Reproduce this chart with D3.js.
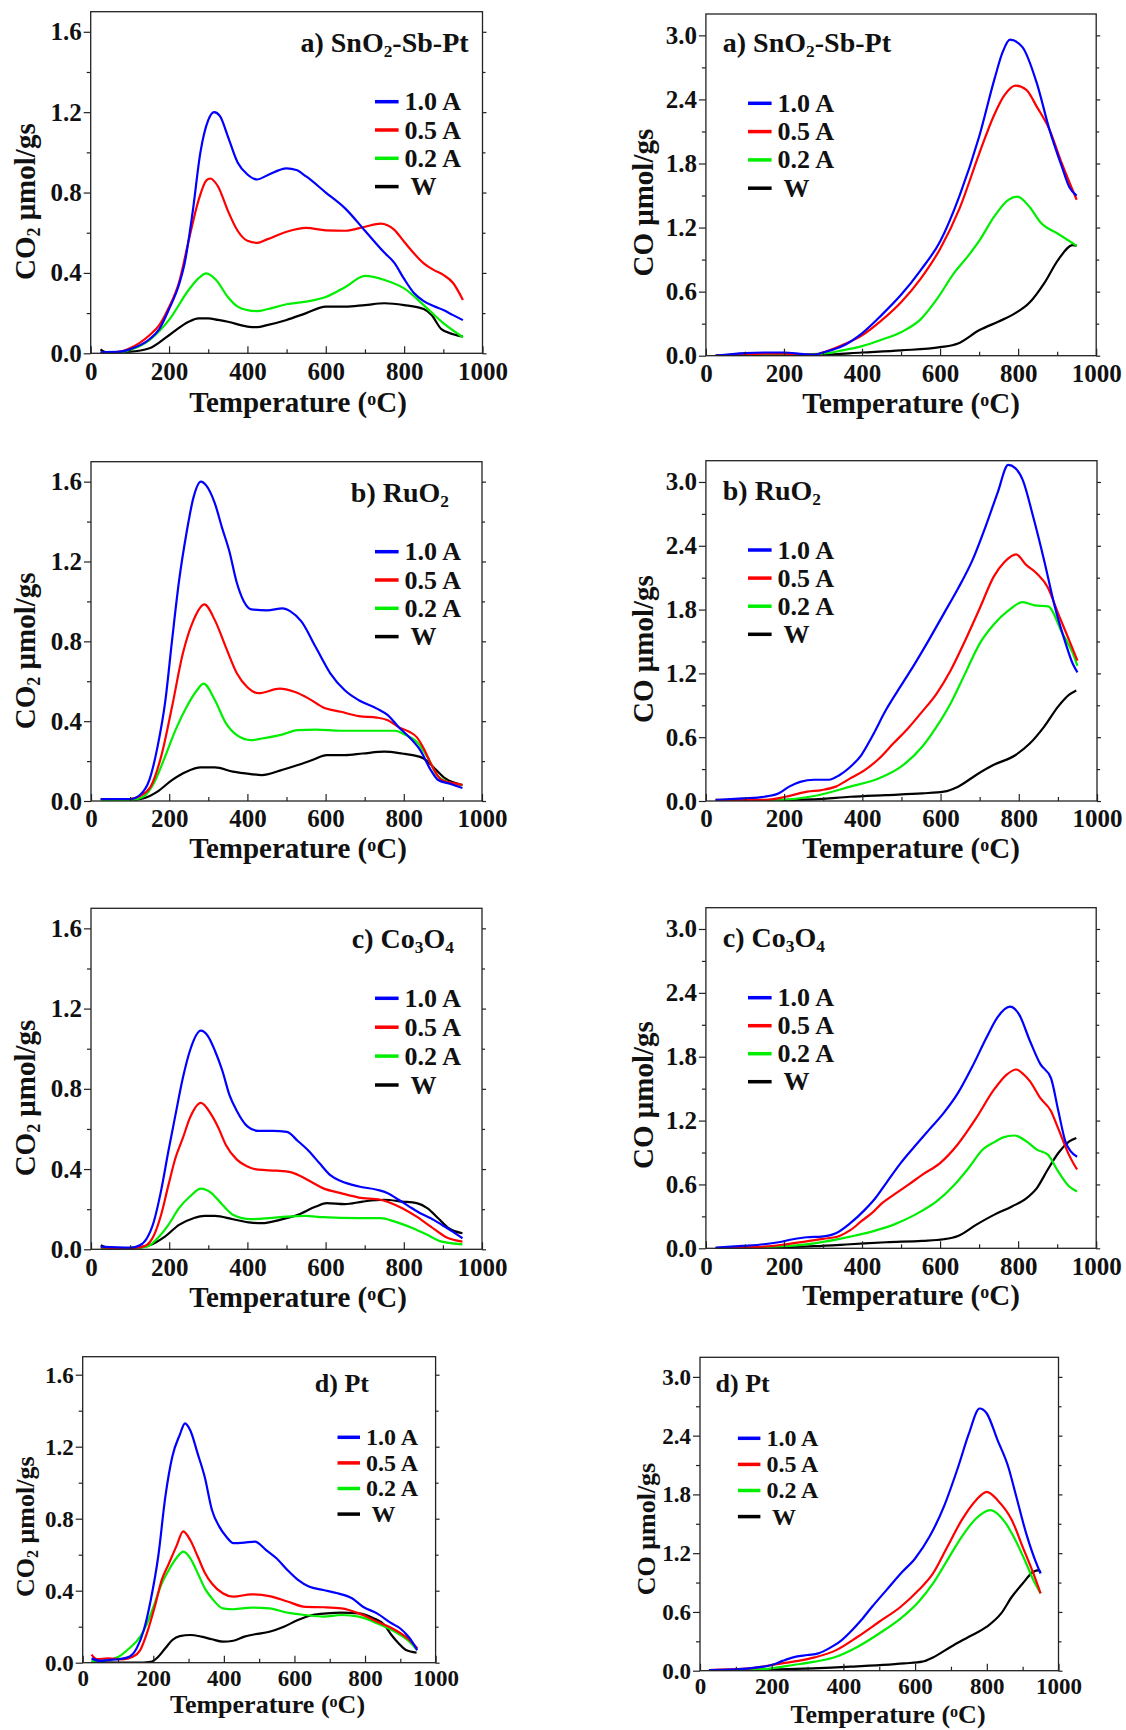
<!DOCTYPE html>
<html><head><meta charset="utf-8">
<script src="https://cdn.jsdelivr.net/npm/d3@7"></script>
<style>
body{margin:0;background:#fff}
svg{display:block}
text{font-family:"Liberation Serif","Times New Roman",serif;font-weight:bold;fill:#111}
.leg{white-space:pre}
</style>
</head><body>
<svg id="c" width="1126" height="1730"></svg>
<script>
// ---------- data ----------
const seriesNames = ["1.0 A", "0.5 A", "0.2 A", " W"];
const seriesColors = ["#0000ff", "#ff0000", "#00ee00", "#000000"];
const xTicks = [0, 200, 400, 600, 800, 1000];
const xMinor = [100, 300, 500, 700, 900];
const yTicksCO2 = [0, 0.4, 0.8, 1.2, 1.6];
const yMinorCO2 = [0.2, 0.6, 1.0, 1.4];
const yTicksCO = [0, 0.6, 1.2, 1.8, 2.4, 3.0];
const yMinorCO = [0.3, 0.9, 1.5, 2.1, 2.7];

// a) SnO2-Sb-Pt, CO2
const a_CO2_10 = [[25,0.005],[75,0.008],[100,0.02],[150,0.07],[175,0.12],[200,0.22],[225,0.34],[240,0.45],[260,0.70],[280,1.0],[300,1.16],[315,1.2],[330,1.18],[350,1.08],[375,0.95],[400,0.89],[425,0.865],[450,0.885],[500,0.92],[525,0.912],[550,0.88],[600,0.80],[650,0.72],[700,0.61],[750,0.50],[775,0.45],[800,0.37],[825,0.30],[850,0.26],[875,0.235],[900,0.215],[925,0.19],[950,0.165]];
const a_CO2_05 = [[25,0.0],[75,0.008],[100,0.025],[150,0.09],[175,0.14],[200,0.23],[225,0.35],[250,0.56],[275,0.76],[295,0.86],[305,0.87],[325,0.83],[350,0.71],[375,0.61],[400,0.56],[425,0.55],[450,0.567],[500,0.605],[550,0.624],[600,0.612],[650,0.61],[700,0.63],[740,0.645],[775,0.614],[800,0.555],[850,0.448],[875,0.415],[900,0.39],[925,0.35],[950,0.265]];
const a_CO2_02 = [[25,0.0],[75,0.005],[100,0.017],[150,0.066],[200,0.166],[250,0.315],[275,0.373],[295,0.398],[320,0.365],[350,0.28],[375,0.232],[400,0.215],[425,0.21],[450,0.219],[500,0.244],[550,0.257],[600,0.28],[650,0.33],[700,0.385],[750,0.365],[800,0.323],[850,0.24],[900,0.15],[950,0.08]];
const a_CO2_W = [[25,0.02],[40,0.005],[100,0.008],[150,0.025],[200,0.09],[250,0.157],[275,0.174],[300,0.174],[325,0.166],[350,0.157],[400,0.133],[425,0.13],[450,0.14],[500,0.166],[550,0.2],[600,0.232],[650,0.232],[700,0.24],[750,0.249],[800,0.24],[850,0.22],[870,0.19],[895,0.12],[925,0.095],[950,0.083]];

// a) SnO2-Sb-Pt, CO
const a_CO_10 = [[25,0],[100,0.025],[150,0.03],[200,0.03],[250,0.015],[280,0.01],[300,0.03],[350,0.09],[400,0.21],[450,0.38],[500,0.57],[550,0.8],[600,1.07],[650,1.5],[700,2.05],[740,2.6],[760,2.84],[779,2.96],[811,2.89],[848,2.55],[880,2.12],[912,1.77],[931,1.58],[950,1.5]];
const a_CO_05 = [[25,0],[100,0.015],[200,0.02],[250,0.01],[280,0.01],[300,0.03],[350,0.1],[400,0.19],[450,0.33],[500,0.5],[550,0.72],[600,1.0],[650,1.38],[701,1.9],[738,2.25],[765,2.44],[793,2.53],[821,2.49],[848,2.33],[880,2.12],[912,1.8],[950,1.46]];
const a_CO_02 = [[25,0],[200,0.01],[300,0.02],[350,0.05],[400,0.09],[450,0.15],[500,0.22],[550,0.34],[590,0.52],[637,0.78],[673,0.94],[701,1.08],[738,1.3],[775,1.46],[798,1.49],[830,1.39],[857,1.25],[903,1.14],[950,1.03]];
const a_CO_W = [[25,0],[300,0.01],[400,0.03],[500,0.05],[600,0.08],[646,0.115],[701,0.24],[750,0.32],[784,0.38],[830,0.5],[867,0.68],[903,0.9],[940,1.035],[950,1.03]];

// b) RuO2, CO2
const b_CO2_10 = [[25,0.01],[100,0.01],[125,0.03],[150,0.11],[170,0.27],[190,0.5],[207,0.8],[225,1.1],[244,1.34],[262,1.52],[281,1.6],[295,1.58],[317,1.49],[335,1.37],[354,1.25],[372,1.1],[391,1.0],[410,0.96],[450,0.955],[490,0.965],[510,0.95],[538,0.9],[575,0.77],[612,0.64],[649,0.555],[685,0.505],[731,0.463],[759,0.43],[787,0.37],[814,0.32],[842,0.255],[869,0.155],[888,0.105],[920,0.085],[950,0.065]];
const b_CO2_05 = [[25,0.01],[100,0.01],[125,0.025],[152,0.07],[179,0.22],[207,0.47],[235,0.74],[262,0.905],[290,0.985],[317,0.905],[345,0.77],[373,0.64],[400,0.57],[428,0.54],[483,0.563],[520,0.547],[557,0.513],[593,0.47],[639,0.447],[685,0.425],[731,0.418],[759,0.405],[787,0.37],[814,0.347],[833,0.32],[851,0.263],[869,0.188],[897,0.105],[943,0.083],[950,0.08]];
const b_CO2_02 = [[25,0.005],[100,0.005],[133,0.02],[161,0.09],[189,0.22],[216,0.355],[244,0.47],[271,0.555],[288,0.588],[317,0.505],[345,0.39],[373,0.33],[409,0.305],[437,0.313],[483,0.33],[529,0.355],[575,0.358],[639,0.352],[731,0.352],[777,0.352],[805,0.33],[833,0.297],[860,0.222],[888,0.122],[925,0.088],[950,0.08]];
const b_CO2_W = [[25,0.01],[100,0.005],[133,0.013],[170,0.047],[207,0.105],[244,0.147],[281,0.168],[317,0.168],[363,0.147],[409,0.135],[437,0.13],[483,0.152],[529,0.18],[566,0.205],[603,0.23],[649,0.23],[695,0.238],[750,0.247],[796,0.238],[823,0.23],[851,0.213],[879,0.163],[906,0.113],[950,0.08]];

// b) RuO2, CO
const b_CO_10 = [[25,0.01],[94,0.025],[149,0.04],[185,0.07],[213,0.135],[241,0.18],[277,0.2],[314,0.2],[342,0.245],[369,0.32],[397,0.43],[424,0.6],[461,0.86],[498,1.08],[534,1.29],[571,1.52],[608,1.76],[645,2.0],[681,2.26],[718,2.61],[746,2.9],[773,3.16],[791,3.13],[810,3.02],[837,2.67],[865,2.26],[892,1.83],[920,1.48],[938,1.29],[950,1.21]];
const b_CO_05 = [[25,0.01],[149,0.01],[204,0.04],[259,0.088],[296,0.103],[332,0.135],[369,0.213],[406,0.29],[443,0.4],[479,0.54],[516,0.68],[553,0.84],[590,1.01],[626,1.23],[663,1.51],[700,1.81],[736,2.11],[764,2.25],[793,2.32],[819,2.22],[846,2.14],[874,2.01],[901,1.76],[929,1.51],[950,1.32]];
const b_CO_02 = [[25,0.005],[185,0.01],[277,0.047],[369,0.135],[443,0.213],[498,0.32],[553,0.51],[590,0.7],[626,0.92],[663,1.2],[700,1.48],[736,1.66],[773,1.79],[810,1.87],[840,1.84],[875,1.83],[911,1.58],[938,1.39],[950,1.27]];
const b_CO_W = [[25,0.005],[277,0.015],[369,0.04],[461,0.056],[553,0.072],[608,0.088],[645,0.135],[691,0.245],[736,0.34],[791,0.43],[828,0.54],[865,0.7],[901,0.89],[929,1.0],[947,1.04]];

// c) Co3O4, CO2
const c_CO2_10 = [[25,0.013],[100,0.008],[125,0.02],[143,0.055],[161,0.14],[179,0.29],[198,0.49],[216,0.67],[235,0.855],[253,0.99],[281,1.09],[299,1.063],[317,0.99],[336,0.89],[354,0.77],[373,0.69],[400,0.613],[428,0.59],[465,0.59],[501,0.585],[529,0.54],[557,0.49],[584,0.43],[612,0.37],[639,0.34],[685,0.313],[731,0.297],[759,0.28],[787,0.247],[814,0.213],[842,0.18],[869,0.155],[897,0.122],[925,0.088],[950,0.055]];
const c_CO2_05 = [[25,0.01],[100,0.005],[125,0.01],[143,0.022],[161,0.07],[179,0.17],[198,0.32],[216,0.455],[235,0.555],[253,0.655],[281,0.73],[308,0.67],[326,0.605],[345,0.52],[373,0.447],[400,0.413],[428,0.397],[474,0.392],[510,0.385],[538,0.363],[566,0.333],[593,0.305],[639,0.28],[685,0.258],[740,0.247],[768,0.23],[796,0.205],[833,0.163],[869,0.113],[906,0.063],[950,0.038]];
const c_CO2_02 = [[25,0.005],[100,0.005],[143,0.013],[170,0.055],[198,0.122],[225,0.205],[253,0.263],[281,0.302],[308,0.28],[336,0.222],[363,0.172],[409,0.15],[455,0.155],[501,0.163],[547,0.167],[593,0.16],[685,0.155],[740,0.155],[777,0.138],[823,0.105],[860,0.072],[897,0.038],[950,0.025]];
const c_CO2_W = [[25,0.02],[50,0.005],[100,0.005],[152,0.022],[189,0.063],[225,0.122],[262,0.155],[290,0.167],[317,0.167],[363,0.15],[409,0.133],[437,0.13],[483,0.147],[529,0.172],[575,0.213],[603,0.23],[649,0.225],[695,0.238],[750,0.247],[796,0.238],[833,0.23],[860,0.205],[888,0.155],[915,0.105],[950,0.08]];

// c) Co3O4, CO
const c_CO_10 = [[25,0.006],[94,0.022],[149,0.038],[186,0.057],[223,0.085],[259,0.104],[296,0.11],[333,0.141],[370,0.236],[407,0.361],[434,0.47],[462,0.613],[499,0.8],[535,0.958],[572,1.115],[609,1.27],[646,1.46],[683,1.71],[719,1.98],[747,2.17],[779,2.27],[802,2.2],[830,1.95],[857,1.73],[884,1.6],[903,1.29],[921,1.005],[935,0.91],[951,0.86]];
const c_CO_05 = [[25,0],[100,0.01],[150,0.016],[200,0.035],[250,0.06],[300,0.088],[342,0.116],[370,0.17],[400,0.26],[425,0.33],[450,0.42],[480,0.5],[520,0.6],[554,0.69],[600,0.8],[646,0.98],[692,1.22],[738,1.49],[770,1.63],[795,1.68],[815,1.63],[830,1.57],[857,1.41],[884,1.29],[900,1.15],[912,1.04],[930,0.88],[951,0.74]];
const c_CO_02 = [[25,0],[94,0.005],[200,0.02],[278,0.047],[370,0.11],[425,0.157],[480,0.22],[535,0.314],[591,0.44],[637,0.597],[673,0.754],[710,0.93],[740,1.0],[760,1.04],[790,1.06],[821,1.005],[848,0.927],[876,0.88],[903,0.72],[931,0.58],[951,0.534]];
const c_CO_W = [[25,0],[278,0.02],[370,0.038],[462,0.057],[554,0.07],[609,0.085],[646,0.116],[692,0.22],[738,0.314],[784,0.393],[821,0.47],[848,0.566],[876,0.74],[903,0.895],[931,1.005],[949,1.037]];

// d) Pt, CO2
const d_CO2_10 = [[25,0.024],[50,0.01],[71,0.015],[102,0.019],[132,0.033],[153,0.08],[173,0.18],[193,0.35],[214,0.59],[234,0.92],[254,1.146],[275,1.266],[290,1.33],[305,1.29],[326,1.16],[346,1.03],[366,0.85],[387,0.756],[407,0.7],[427,0.664],[458,0.667],[488,0.673],[519,0.627],[549,0.58],[580,0.515],[610,0.46],[641,0.423],[682,0.404],[722,0.386],[763,0.358],[794,0.311],[834,0.274],[875,0.219],[900,0.19],[925,0.14],[948,0.07]];
const d_CO2_05 = [[25,0.045],[40,0.02],[71,0.024],[112,0.019],[142,0.033],[163,0.07],[183,0.17],[204,0.31],[224,0.46],[244,0.55],[265,0.645],[285,0.73],[305,0.68],[326,0.59],[346,0.5],[366,0.44],[397,0.386],[427,0.367],[478,0.38],[529,0.37],[580,0.34],[631,0.31],[682,0.308],[733,0.302],[783,0.274],[834,0.228],[885,0.182],[926,0.126],[948,0.08]];
const d_CO2_02 = [[25,0.01],[71,0.015],[102,0.033],[132,0.08],[163,0.145],[183,0.22],[204,0.33],[224,0.44],[244,0.515],[265,0.58],[285,0.617],[305,0.58],[326,0.497],[346,0.413],[366,0.358],[397,0.302],[427,0.297],[478,0.306],[529,0.302],[580,0.278],[631,0.265],[682,0.256],[733,0.265],[783,0.256],[834,0.219],[885,0.172],[926,0.117],[948,0.07]];
const d_CO2_W = [[25,0.005],[153,0],[193,0.005],[214,0.033],[234,0.08],[254,0.126],[275,0.148],[305,0.154],[336,0.145],[366,0.13],[397,0.117],[427,0.122],[458,0.145],[488,0.158],[529,0.172],[570,0.2],[610,0.237],[651,0.265],[692,0.274],[733,0.278],[783,0.274],[824,0.247],[855,0.21],[875,0.154],[895,0.108],[916,0.07],[946,0.056]];

// d) Pt, CO
const d_CO_10 = [[25,0.007],[100,0.014],[160,0.034],[200,0.058],[230,0.1],[260,0.136],[300,0.16],[330,0.177],[360,0.228],[390,0.296],[420,0.398],[450,0.517],[480,0.653],[520,0.823],[560,0.993],[600,1.146],[640,1.367],[680,1.673],[720,2.08],[750,2.42],[780,2.677],[800,2.626],[830,2.354],[860,2.08],[880,1.81],[910,1.4],[940,1.08],[950,0.993]];
const d_CO_05 = [[25,0.007],[140,0.024],[200,0.058],[260,0.092],[320,0.136],[380,0.21],[440,0.347],[500,0.5],[560,0.653],[610,0.823],[650,0.993],[690,1.265],[730,1.537],[770,1.741],[800,1.826],[830,1.741],[870,1.537],[900,1.265],[930,0.993],[950,0.79]];
const d_CO_02 = [[25,0.005],[140,0.01],[200,0.024],[260,0.058],[320,0.092],[380,0.143],[440,0.245],[500,0.38],[560,0.534],[610,0.704],[650,0.891],[690,1.129],[730,1.367],[770,1.554],[810,1.64],[850,1.52],[880,1.333],[910,1.095],[930,0.925],[950,0.79]];
const d_CO_W = [[25,0.007],[220,0.014],[420,0.041],[570,0.075],[620,0.092],[650,0.136],[700,0.245],[750,0.347],[800,0.449],[840,0.585],[870,0.755],[900,0.891],[930,1.01],[945,1.027],[950,1.0]];

// panel titles (text pieces, "sub" = subscript)
const labelA = [["a) SnO"],["2","sub"],["-Sb-Pt"]];
const labelB = [["b) RuO"],["2","sub"]];
const labelC = [["c) Co"],["3","sub"],["O"],["4","sub"]];
const labelD = [["d) Pt"]];
const yTitleCO2 = [["CO"],["2","sub"],[" μmol/gs"]];
const yTitleCO = [["CO μmol/gs"]];
const xTitle = [["Temperature ("],["o","sup"],["C)"]];

// ---------- layout ----------
const big = {tick:25, title:29, label:28, leg:26, legLen:23.6, pad:8.5};
const small = {tick:23, title:26, label:26, leg:24, legLen:22.5, pad:7.3};
const panels = [
 {data:[a_CO2_10,a_CO2_05,a_CO2_02,a_CO2_W], co2:true, L:90.7,R:482.5,T:11.7,B:353.3, f:big,
  label:labelA, lx:468.6, ly:51.7, la:"end", legX:375, legY:101.7, legS:28.3, xtx:298, xty:411.7, ytx:35, yty:201.7},
 {data:[a_CO_10,a_CO_05,a_CO_02,a_CO_W], co2:false, L:705.9,R:1096.2,T:14,B:355.7, f:big,
  label:labelA, lx:722.8, ly:51.7, la:"start", legX:748, legY:103.3, legS:28.3, xtx:911, xty:413.3, ytx:653, yty:202.6},
 {data:[b_CO2_10,b_CO2_05,b_CO2_02,b_CO2_W], co2:true, L:91,R:482,T:461.7,B:801, f:big,
  label:labelB, lx:449, ly:501.7, la:"end", legX:375, legY:551.7, legS:28.3, xtx:298, xty:858.3, ytx:35, yty:650.8},
 {data:[b_CO_10,b_CO_05,b_CO_02,b_CO_W], co2:false, L:705.9,R:1097,T:460.7,B:801, f:big,
  label:labelB, lx:722.8, ly:500, la:"start", legX:748, legY:550, legS:28.1, xtx:911, xty:858.3, ytx:653, yty:649},
 {data:[c_CO2_10,c_CO2_05,c_CO2_02,c_CO2_W], co2:true, L:91,R:482,T:908.3,B:1249.3, f:big,
  label:labelC, lx:454, ly:948.3, la:"end", legX:375, legY:998.3, legS:28.9, xtx:298, xty:1306.7, ytx:35, yty:1098},
 {data:[c_CO_10,c_CO_05,c_CO_02,c_CO_W], co2:false, L:705.9,R:1096.2,T:907.7,B:1248.3, f:big,
  label:labelC, lx:722.8, ly:946.7, la:"start", legX:748, legY:997.7, legS:28, xtx:911, xty:1305, ytx:653, yty:1095},
 {data:[d_CO2_10,d_CO2_05,d_CO2_02,d_CO2_W], co2:true, L:82.7,R:435.6,T:1356.7,B:1662.7, f:small,
  label:labelD, lx:369, ly:1391.7, la:"end", legX:337.5, legY:1437.3, legS:25.6, xtx:267.5, xty:1713.3, ytx:34, yty:1526.7},
 {data:[d_CO_10,d_CO_05,d_CO_02,d_CO_W], co2:false, L:700,R:1058.5,T:1357.3,B:1670.7, f:small,
  label:labelD, lx:715.6, ly:1391.7, la:"start", legX:737.9, legY:1438.3, legS:26.1, xtx:888, xty:1723.3, ytx:655, yty:1529}
];

const svg = d3.select("#c");
const defs = svg.append("defs");

function richText(sel, parts, size) {
  parts.forEach(p => {
    const t = sel.append("tspan").text(p[0]);
    if (p[1] === "sub") t.attr("baseline-shift", "-28%").style("font-size", (size*0.62)+"px");
    if (p[1] === "sup") t.attr("baseline-shift", "38%").style("font-size", (size*0.62)+"px");
  });
}

panels.forEach((p, pi) => {
  const ymax = p.co2 ? 1.7 : 3.2;
  const yt = p.co2 ? yTicksCO2 : yTicksCO;
  const ym = p.co2 ? yMinorCO2 : yMinorCO;
  const x = d3.scaleLinear().domain([0, 1000]).range([p.L, p.R]);
  const y = d3.scaleLinear().domain([0, ymax]).range([p.B, p.T]);
  const g = svg.append("g");
  const cid = "clip" + pi;
  defs.append("clipPath").attr("id", cid).append("rect")
    .attr("x", p.L).attr("y", p.T).attr("width", p.R - p.L).attr("height", p.B - p.T);

  // data lines
  const line = d3.line().x(d => x(d[0])).y(d => y(d[1])).curve(d3.curveMonotoneX);
  g.append("g").attr("clip-path", `url(#${cid})`)
    .selectAll("path").data([3, 2, 1, 0]).join("path")
    .attr("d", i => line(p.data[i]))
    .attr("fill", "none").attr("stroke", i => seriesColors[i])
    .attr("stroke-width", 2.2).attr("stroke-linejoin", "round");

  // axes
  const styleAxis = s => { s.select(".domain").remove(); s.attr("font-family", null).attr("font-size", null).attr("color", "#222");
    s.selectAll("line").attr("stroke-width", 1.2); s.selectAll("text").style("font-size", p.f.tick + "px"); };
  g.append("g").attr("transform", `translate(${p.L},0)`)
    .call(d3.axisLeft(y).tickValues(yt).tickSize(7).tickPadding(2).tickFormat(d3.format(".1f"))).call(styleAxis);
  g.append("g").attr("transform", `translate(${p.L},0)`)
    .call(d3.axisLeft(y).tickValues(ym).tickSize(4).tickFormat("")).call(styleAxis);
  g.append("g").attr("transform", `translate(${p.R},0)`)
    .call(d3.axisRight(y).tickValues(yt).tickSize(4).tickFormat("")).call(styleAxis);
  g.append("g").attr("transform", `translate(${p.R},0)`)
    .call(d3.axisRight(y).tickValues(ym).tickSize(3).tickFormat("")).call(styleAxis);
  g.append("g").attr("transform", `translate(0,${p.B})`)
    .call(d3.axisBottom(x).tickValues(xTicks).tickSize(-7).tickPadding(p.f.pad).tickFormat(d3.format("d"))).call(styleAxis);
  g.append("g").attr("transform", `translate(0,${p.B})`)
    .call(d3.axisBottom(x).tickValues(xMinor).tickSize(-4).tickFormat("")).call(styleAxis);

  // frame
  g.append("rect").attr("x", p.L).attr("y", p.T).attr("width", p.R - p.L).attr("height", p.B - p.T)
    .attr("fill", "none").attr("stroke", "#222").attr("stroke-width", 1.3);

  // panel label
  richText(g.append("text").attr("x", p.lx).attr("y", p.ly).attr("text-anchor", p.la)
    .style("font-size", p.f.label + "px"), p.label, p.f.label);

  // legend
  const lg = g.append("g").selectAll("g").data(seriesNames).join("g")
    .attr("transform", (d, i) => `translate(${p.legX},${p.legY + i * p.legS})`);
  lg.append("line").attr("x1", 0).attr("x2", p.f.legLen).attr("y1", 0).attr("y2", 0)
    .attr("stroke", (d, i) => seriesColors[i]).attr("stroke-width", 3.5);
  lg.append("text").attr("class", "leg").attr("x", p.f.legLen + 6).attr("y", p.f.leg * 0.33)
    .style("font-size", p.f.leg + "px").text(d => d);

  // axis titles
  richText(g.append("text").attr("x", p.xtx).attr("y", p.xty).attr("text-anchor", "middle")
    .style("font-size", p.f.title + "px"), xTitle, p.f.title);
  richText(g.append("text").attr("transform", `translate(${p.ytx},${p.yty}) rotate(-90)`)
    .attr("text-anchor", "middle").style("font-size", p.f.title + "px"),
    p.co2 ? yTitleCO2 : yTitleCO, p.f.title);
});
</script>
</body></html>
